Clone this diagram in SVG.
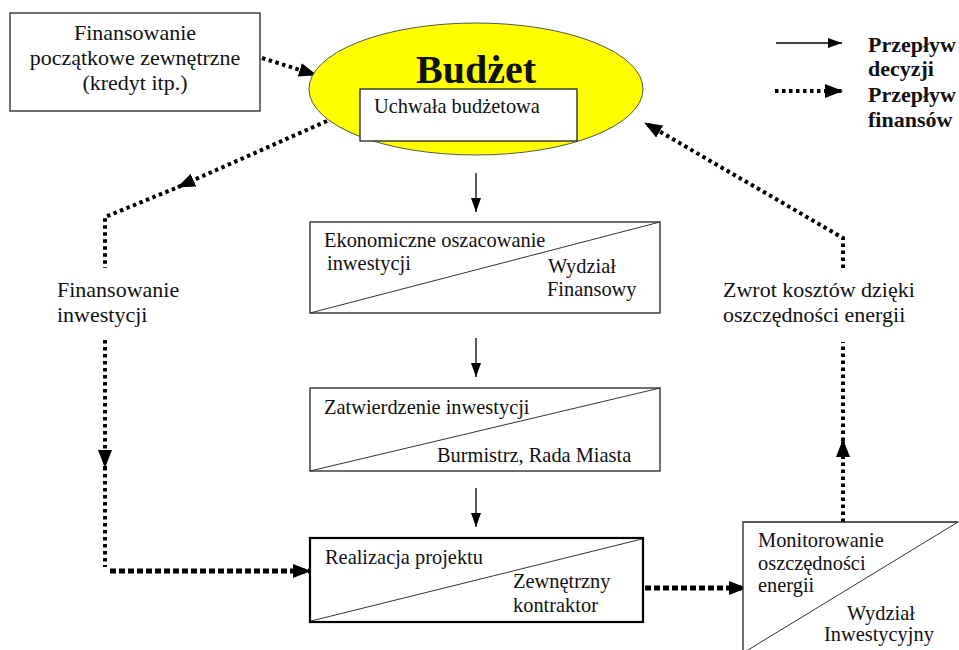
<svg xmlns="http://www.w3.org/2000/svg" width="959" height="650" viewBox="0 0 959 650">
<defs>
<style>
text{font-family:"Liberation Serif","Times New Roman",serif;font-size:20.4px;fill:#111}
.l{font-size:22px}
.b{font-weight:bold;font-size:22px}
.box{fill:#fff;stroke:#222;stroke-width:1.3}
.diag{stroke:#333;stroke-width:1;fill:none}
.dot{stroke:#000;stroke-width:4;stroke-dasharray:3.5 3.5;fill:none}
.dotb{stroke:#000;stroke-width:5;stroke-dasharray:6 3;fill:none}
.sol{stroke:#000;stroke-width:1.3;fill:none}
</style>
<marker id="big" viewBox="0 0 18 14" refX="17" refY="7" markerWidth="18" markerHeight="14" markerUnits="userSpaceOnUse" orient="auto">
<path d="M0,0 L18,7 L0,14 z" fill="#000"/>
</marker>
<marker id="small" viewBox="0 0 14 10" refX="14" refY="5" markerWidth="14" markerHeight="10" markerUnits="userSpaceOnUse" orient="auto">
<path d="M0,0 L14,5 L0,10 z" fill="#000"/>
</marker>
</defs>

<g id="connectors">
<line class="dot" x1="262" y1="58" x2="316" y2="75" marker-end="url(#big)"/>
<line class="dot" x1="327" y1="121" x2="178" y2="187" marker-end="url(#big)"/>
<polyline class="dot" points="188,183 105,217 105,268"/>
<line class="dot" x1="105" y1="340" x2="105" y2="467" marker-end="url(#big)"/>
<line class="dot" x1="105" y1="460" x2="105" y2="567"/>
<line class="dotb" x1="110" y1="571" x2="310" y2="571" marker-end="url(#big)"/>
<line class="dotb" x1="645" y1="588" x2="746" y2="588" marker-end="url(#big)"/>
<line class="dot" x1="843" y1="522" x2="843" y2="440" marker-end="url(#big)"/>
<line class="dot" x1="843" y1="448" x2="843" y2="342"/>
<polyline class="dot" points="843,268 843,238 645,123" marker-end="url(#big)"/>
<line class="sol" x1="476" y1="173" x2="476" y2="212" marker-end="url(#small)"/>
<line class="sol" x1="476" y1="338" x2="476" y2="377" marker-end="url(#small)"/>
<line class="sol" x1="476" y1="488" x2="476" y2="527" marker-end="url(#small)"/>
</g>

<g id="legend">
<line class="sol" x1="776" y1="43" x2="842" y2="43" marker-end="url(#small)"/>
<line class="dot" x1="775" y1="91" x2="842" y2="91" marker-end="url(#big)"/>
<text class="b" x="868" y="52">Przepływ</text>
<text class="b" x="868" y="76">decyzji</text>
<text class="b" x="868" y="102">Przepływ</text>
<text class="b" x="868" y="127">finansów</text>
</g>

<g id="n-ext">
<rect class="box" x="10" y="13" width="250" height="98"/>
<text class="l" x="135" y="40" text-anchor="middle">Finansowanie</text>
<text class="l" x="135" y="65" text-anchor="middle">początkowe zewnętrzne</text>
<text class="l" x="135" y="90" text-anchor="middle">(kredyt itp.)</text>
</g>

<g id="n-budzet">
<ellipse cx="476" cy="89" rx="167" ry="66" fill="#ffff00" stroke="#555" stroke-width="1"/>
<text x="476" y="83" text-anchor="middle" style="font-weight:bold;font-size:40px">Budżet</text>
<rect class="box" x="360" y="89" width="217" height="52"/>
<text x="374" y="113">Uchwała budżetowa</text>
</g>

<g id="n-ekon">
<rect class="box" x="310" y="222" width="350" height="91"/>
<line class="diag" x1="310" y1="313" x2="660" y2="222"/>
<text x="324" y="247">Ekonomiczne oszacowanie</text>
<text x="327" y="270">inwestycji</text>
<text x="548" y="273">Wydział</text>
<text x="547" y="296">Finansowy</text>
</g>

<g id="n-zatw">
<rect class="box" x="310" y="388" width="350" height="83"/>
<line class="diag" x1="310" y1="471" x2="660" y2="388"/>
<text x="324" y="414">Zatwierdzenie inwestycji</text>
<text x="437" y="462">Burmistrz, Rada Miasta</text>
</g>

<g id="n-real">
<rect x="310" y="538" width="333" height="84" fill="#fff" stroke="#000" stroke-width="2.2"/>
<line class="diag" x1="311" y1="621" x2="642" y2="539"/>
<text x="325" y="564">Realizacja projektu</text>
<text x="513" y="588">Zewnętrzny</text>
<text x="513" y="612">kontraktor</text>
</g>

<g id="n-fininw">
<text class="l" x="57" y="297">Finansowanie</text>
<text class="l" x="57" y="322">inwestycji</text>
</g>

<g id="n-zwrot">
<text class="l" x="723" y="297">Zwrot kosztów dzięki</text>
<text class="l" x="723" y="322">oszczędności energii</text>
</g>

<g id="n-monit">
<path d="M958,522 L743,522 L743,653" fill="#fff" stroke="#222" stroke-width="1.3"/>
<line class="diag" x1="958" y1="522" x2="743" y2="653"/>
<text x="758" y="547">Monitorowanie</text>
<text x="758" y="570">oszczędności</text>
<text x="758" y="592">energii</text>
<text x="847" y="620">Wydział</text>
<text x="824" y="641">Inwestycyjny</text>
</g>
</svg>
